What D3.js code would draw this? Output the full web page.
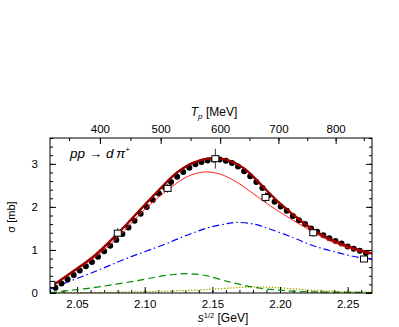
<!DOCTYPE html>
<html>
<head>
<meta charset="utf-8">
<script src="https://cdn.jsdelivr.net/npm/d3@7"></script>
<style>
  body { margin: 0; background: #fff; }
  text { font-family: "Liberation Sans", Arial, sans-serif; }
</style>
</head>
<body>
<svg></svg>
<script>
var svgWidth = 399, svgHeight = 327;

// data
var dotX = [2.034, 2.0385, 2.043, 2.0475, 2.052, 2.0565, 2.061, 2.0655, 2.07, 2.0745,
            2.079, 2.0835, 2.088, 2.0925, 2.097, 2.1015, 2.106, 2.1105, 2.115, 2.1195,
            2.124, 2.1285, 2.133, 2.1375, 2.142, 2.1465, 2.151, 2.1555, 2.16, 2.1645,
            2.169, 2.1735, 2.178, 2.1825, 2.187, 2.1915, 2.196, 2.2005, 2.205, 2.2095,
            2.214, 2.2185, 2.223, 2.2275, 2.232, 2.2365, 2.241, 2.2455, 2.25, 2.2545,
            2.259, 2.2635];
var dotY = [0.12, 0.22, 0.32, 0.42, 0.52, 0.62, 0.72, 0.84, 0.97, 1.10,
            1.23, 1.37, 1.52, 1.68, 1.84, 2.00, 2.16, 2.31, 2.45, 2.58,
            2.70, 2.81, 2.91, 2.99, 3.04, 3.08, 3.10, 3.10, 3.07, 3.02,
            2.94, 2.83, 2.71, 2.58, 2.44, 2.27, 2.12, 2.01, 1.91, 1.79,
            1.69, 1.60, 1.50, 1.42, 1.34, 1.27, 1.21, 1.15, 1.08, 1.03,
            0.98, 0.93];

var sqX = [2.031, 2.0801, 2.1169, 2.1522, 2.1893, 2.2246, 2.2621];
var sqY = [0.20, 1.39, 2.43, 3.12, 2.22, 1.40, 0.79];
var sqErr = [0.05, 0.12, 0.10, 0.23, 0.12, 0.10, 0.05];

var totalX = [2.030, 2.0461, 2.0633, 2.0794, 2.1004, 2.1139, 2.1239, 2.1361, 2.1485, 2.1609,
              2.1732, 2.1856, 2.1979, 2.2102, 2.2226, 2.2350, 2.2473, 2.2596, 2.268];
var totalY = [0.13, 0.48, 0.88, 1.36, 2.06, 2.50, 2.80, 3.03, 3.13, 3.09,
              2.90, 2.53, 2.14, 1.81, 1.51, 1.28, 1.12, 0.99, 0.92];

var thinX = [2.030, 2.046, 2.064, 2.080, 2.100, 2.1189, 2.1313, 2.1436, 2.1559, 2.1683,
             2.1806, 2.1930, 2.2102, 2.2226, 2.2350, 2.2473, 2.2596, 2.268];
var thinY = [0.13, 0.46, 0.85, 1.29, 1.94, 2.44, 2.70, 2.81, 2.76, 2.57,
             2.30, 2.02, 1.68, 1.45, 1.24, 1.08, 0.96, 0.90];

var blueX = [2.030, 2.0387, 2.0633, 2.0880, 2.1139, 2.1239, 2.1361, 2.1485, 2.1609, 2.1670,
             2.1806, 2.1930, 2.2102, 2.2226, 2.2350, 2.2473, 2.2596, 2.268];
var blueY = [0.09, 0.20, 0.50, 0.82, 1.12, 1.25, 1.40, 1.53, 1.61, 1.64,
             1.60, 1.48, 1.28, 1.12, 1.00, 0.90, 0.82, 0.79];

var greenX = [2.030, 2.045, 2.0633, 2.080, 2.0967, 2.110, 2.1213, 2.130, 2.140, 2.1485,
              2.1609, 2.1732, 2.1856, 2.1979, 2.2102, 2.235, 2.268];
var greenY = [0.01, 0.06, 0.13, 0.21, 0.30, 0.38, 0.43, 0.45, 0.43, 0.38,
              0.27, 0.18, 0.11, 0.07, 0.04, 0.02, 0.01];

var yellowX = [2.030, 2.06, 2.10, 2.14, 2.16, 2.18, 2.20, 2.22, 2.24, 2.268];
var yellowY = [0.00, 0.01, 0.03, 0.07, 0.11, 0.14, 0.12, 0.07, 0.04, 0.02];

var xTicks = [2.05, 2.10, 2.15, 2.20, 2.25];
var yTicks = [0, 1, 2, 3];
var tpTicks = [400, 500, 600, 700, 800];

var mp = 0.93827;
function tpToSqrtS(tp) { return Math.sqrt(4 * mp * mp + 2 * mp * tp / 1000); }

// frame edges (note: "top" is a reserved window global, so prefixed)
var pLeft = 50, pRight = 372, pTop = 138, pBottom = 293;

var svg = d3.select("svg")
            .attr("width", svgWidth)
            .attr("height", svgHeight);

var x = d3.scaleLinear().domain([2.030, 2.268]).range([pLeft, pRight]);
var y = d3.scaleLinear().domain([0, 3.6]).range([pBottom, pTop]);

function styleAxis(g) {
    g.select(".domain").remove();
    g.selectAll("line").attr("stroke", "#000");
    g.selectAll("text").attr("font-size", 11.5).attr("fill", "#000");
}

// bottom axis
var xMinor = d3.range(2.03, 2.2681, 0.01);
svg.append("g").attr("transform", "translate(0," + pBottom + ")")
    .call(d3.axisBottom(x).tickValues(xMinor).tickSize(-3).tickFormat(""))
    .call(styleAxis);
svg.append("g").attr("transform", "translate(0," + pBottom + ")")
    .call(d3.axisBottom(x).tickValues(xTicks).tickSize(-6).tickPadding(7).tickFormat(d3.format(".2f")))
    .call(styleAxis);

// top axis (T_p)
var tpMinor = d3.range(350, 851, 50);
svg.append("g").attr("transform", "translate(0," + pTop + ")")
    .call(d3.axisTop(x).tickValues(tpMinor.map(tpToSqrtS)).tickSize(-3).tickFormat(""))
    .call(styleAxis);
svg.append("g").attr("transform", "translate(0," + pTop + ")")
    .call(d3.axisTop(x).tickValues(tpTicks.map(tpToSqrtS)).tickSize(-6).tickPadding(5)
          .tickFormat(function(d, i) { return tpTicks[i]; }))
    .call(styleAxis);

// left/right axes
var yMinor = d3.range(0, 3.61, 0.2);
svg.append("g").attr("transform", "translate(" + pLeft + ",0)")
    .call(d3.axisLeft(y).tickValues(yMinor).tickSize(-3).tickFormat(""))
    .call(styleAxis);
svg.append("g").attr("transform", "translate(" + pLeft + ",0)")
    .call(d3.axisLeft(y).tickValues(yTicks).tickSize(-6).tickPadding(12).tickFormat(d3.format("d")))
    .call(styleAxis);
svg.append("g").attr("transform", "translate(" + pRight + ",0)")
    .call(d3.axisRight(y).tickValues(yMinor).tickSize(-3).tickFormat(""))
    .call(styleAxis);
svg.append("g").attr("transform", "translate(" + pRight + ",0)")
    .call(d3.axisRight(y).tickValues(yTicks).tickSize(-6).tickFormat(""))
    .call(styleAxis);

// curves, clipped to the frame
svg.append("clipPath").attr("id", "clip")
    .append("rect").attr("x", pLeft).attr("y", pTop)
    .attr("width", pRight - pLeft).attr("height", pBottom - pTop);
var curves = svg.append("g").attr("clip-path", "url(#clip)");

var line = d3.line()
    .x(function(d) { return x(d[0]); })
    .y(function(d) { return y(d[1]); })
    .curve(d3.curveCatmullRom.alpha(0.5));

function pairs(xs, ys) { return xs.map(function(v, i) { return [v, ys[i]]; }); }

curves.append("path").datum(pairs(yellowX, yellowY))
    .attr("d", line).attr("fill", "none")
    .attr("stroke", "#aaaa00").attr("stroke-width", 1.2).attr("stroke-dasharray", "1.5,1.5");
curves.append("path").datum(pairs(greenX, greenY))
    .attr("d", line).attr("fill", "none")
    .attr("stroke", "#008a00").attr("stroke-width", 1.2).attr("stroke-dasharray", "7,4");
curves.append("path").datum(pairs(blueX, blueY))
    .attr("d", line).attr("fill", "none")
    .attr("stroke", "#0000ff").attr("stroke-width", 1.2).attr("stroke-dasharray", "7,3,1.5,3");

// filled circles
curves.selectAll(".dot")
    .data(pairs(dotX, dotY))
    .enter().append("circle")
        .attr("class", "dot")
        .attr("cx", function(d) { return x(d[0]); })
        .attr("cy", function(d) { return y(d[1]); })
        .attr("r", 3)
        .attr("fill", "#000");

curves.append("path").datum(pairs(thinX, thinY))
    .attr("d", line).attr("fill", "none")
    .attr("stroke", "#ff2020").attr("stroke-width", 1);
curves.append("path").datum(pairs(totalX, totalY))
    .attr("d", line).attr("fill", "none")
    .attr("stroke", "#9a0000").attr("stroke-width", 2.4);

// open squares with error bars
var sq = curves.selectAll(".sq")
    .data(sqX.map(function(v, i) { return { x: v, y: sqY[i], e: sqErr[i] }; }))
    .enter().append("g").attr("class", "sq");
sq.append("line")
    .attr("x1", function(d) { return x(d.x); })
    .attr("x2", function(d) { return x(d.x); })
    .attr("y1", function(d) { return y(d.y + d.e); })
    .attr("y2", function(d) { return y(d.y - d.e); })
    .attr("stroke", "#000").attr("stroke-width", 0.8);
sq.append("rect")
    .attr("x", function(d) { return x(d.x) - 3.5; })
    .attr("y", function(d) { return y(d.y) - 3; })
    .attr("width", 7).attr("height", 6)
    .attr("fill", "#fff").attr("stroke", "#000").attr("stroke-width", 1);

// frame
svg.append("rect")
    .attr("x", pLeft).attr("y", pTop)
    .attr("width", pRight - pLeft).attr("height", pBottom - pTop)
    .attr("fill", "none").attr("stroke", "#000").attr("stroke-width", 1);

// labels
svg.append("text")
    .attr("x", 70).attr("y", 158)
    .attr("font-size", 13.5).attr("font-style", "italic")
    .html('pp \u2192 d\u2009\u03c0<tspan dy="-6" font-size="8">+</tspan>');

svg.append("text")
    .attr("x", (pLeft + pRight) / 2 + 12).attr("y", 322)
    .attr("text-anchor", "middle").attr("font-size", 12)
    .html('<tspan font-style="italic">s</tspan><tspan dy="-4" font-size="7.5">1/2</tspan><tspan dy="4"> [GeV]</tspan>');

svg.append("text")
    .attr("x", (pLeft + pRight) / 2 + 3).attr("y", 116)
    .attr("text-anchor", "middle").attr("font-size", 12)
    .html('<tspan font-style="italic">T</tspan><tspan dy="3" font-size="8" font-style="italic">p</tspan><tspan dy="-3"> [MeV]</tspan>');

svg.append("text")
    .attr("transform", "translate(15,217) rotate(-90)")
    .attr("text-anchor", "middle").attr("font-size", 11)
    .text("\u03c3 [mb]");
</script>
</body>
</html>
